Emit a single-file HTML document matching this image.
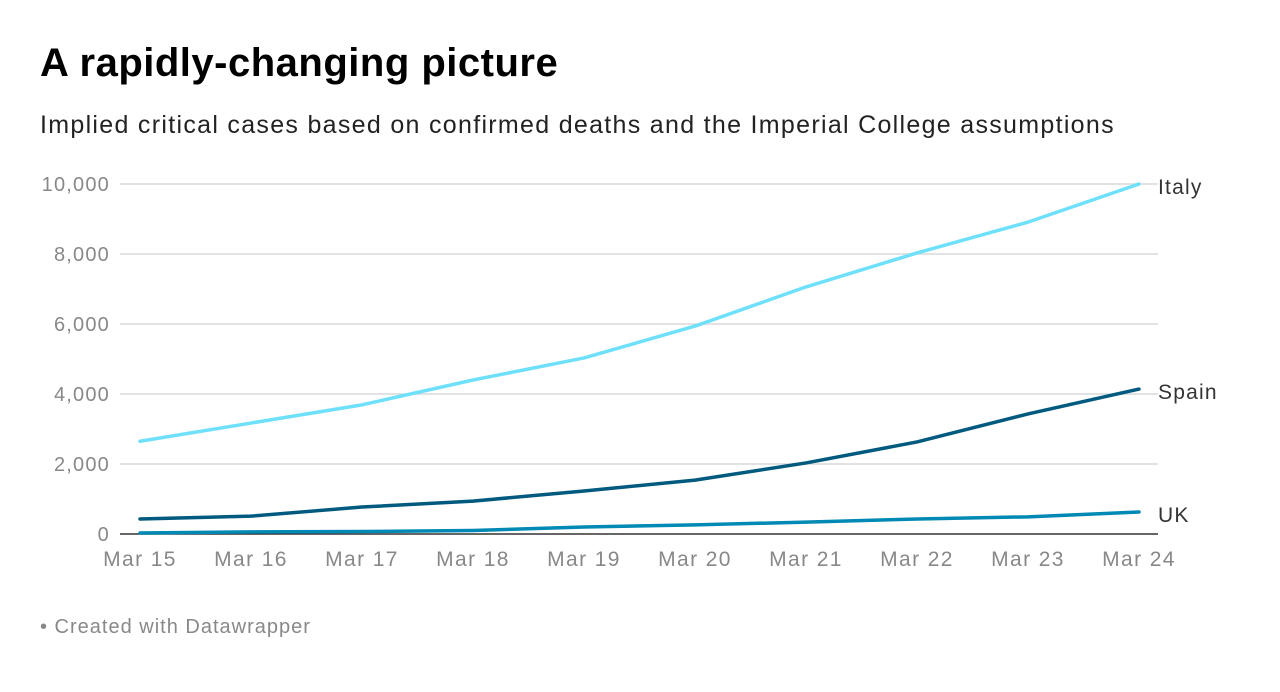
<!DOCTYPE html>
<html><head><meta charset="utf-8"><style>
body{margin:0;width:1280px;height:692px;background:#fff;font-family:"Liberation Sans",sans-serif;overflow:hidden}
h1{position:absolute;left:40px;top:41px;margin:0;font-size:40px;font-weight:bold;color:#000;letter-spacing:0.5px}
.sub{position:absolute;left:40px;top:111px;font-size:25px;color:#222;letter-spacing:1.3px}
.foot{position:absolute;left:40px;top:616px;font-size:20px;color:#888;letter-spacing:1.0px}
svg{position:absolute;left:0;top:0}
</style></head><body>
<h1>A rapidly-changing picture</h1>
<div class="sub">Implied critical cases based on confirmed deaths and the Imperial College assumptions</div>
<div class="foot">• Created with Datawrapper</div>
<svg id="chart" width="1280" height="692"></svg>
<script>
const categories=["Mar 15","Mar 16","Mar 17","Mar 18","Mar 19","Mar 20","Mar 21","Mar 22","Mar 23","Mar 24"];
const italy=[2650,3170,3690,4400,5030,5940,7060,8030,8910,10000];
const spain=[430,510,770,940,1230,1540,2030,2630,3430,4140];
const uk=[30,60,70,100,200,260,340,430,490,630];
const yTicks=[0,2000,4000,6000,8000,10000];
const seriesNames=["Italy","Spain","UK"];
const ns="http://www.w3.org/2000/svg",svg=document.getElementById("chart");
const x=i=>140+i*(1139-140)/(categories.length-1);
const y=v=>534-v*(350/10000);
function mk(t,a){const e=document.createElementNS(ns,t);for(const k in a)e.setAttribute(k,a[k]);svg.appendChild(e);return e;}
yTicks.forEach(v=>{
 const l=mk("line",{x1:120,x2:1158,y1:y(v),y2:y(v),stroke:v===0?"#333":"#d9d9d9","stroke-width":1.5});
 
 
 const t=mk("text",{x:110,y:y(v)+7,"text-anchor":"end","font-size":20,fill:"#888","font-family":"Liberation Sans","letter-spacing":1.2});
 t.textContent=v.toLocaleString("en-US");
 
 
});
categories.forEach((c,i)=>{
 const t=mk("text",{x:x(i),y:566,"text-anchor":"middle","font-size":21,fill:"#888","font-family":"Liberation Sans","letter-spacing":1.4});
 t.textContent=c;
 
 
});
const data=[italy,spain,uk],colors=["#6fe0fb","#005a7f","#0089b4"];
data.forEach((s,k)=>{
 const p=mk("polyline",{points:s.map((v,i)=>x(i)+","+y(v)).join(" "),fill:"none",stroke:colors[k],"stroke-width":3.5,"stroke-linejoin":"round","stroke-linecap":"round"});
 
 
 const t=mk("text",{x:1158,y:y(s[s.length-1])+10,"font-size":21,fill:"#333","font-family":"Liberation Sans","letter-spacing":1.2});
 t.textContent=seriesNames[k];
 
 
});
</script>
</body></html>
